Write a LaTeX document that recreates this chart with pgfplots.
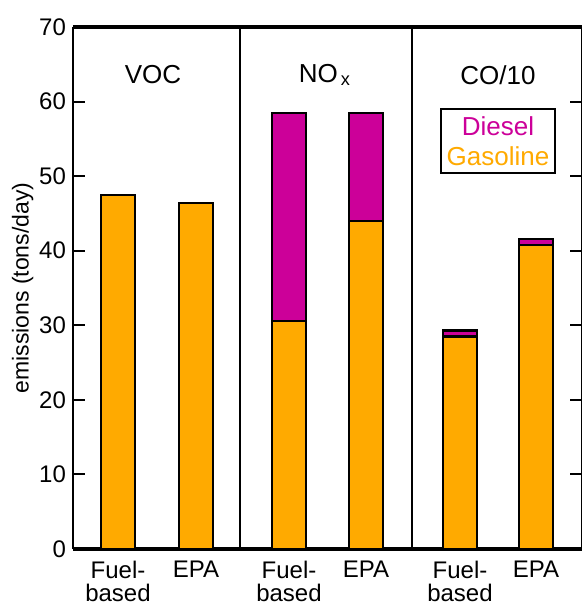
\documentclass[border=0pt]{standalone}
\usepackage{pgfplots}
\pgfplotsset{compat=1.18}
\usepackage{fontspec}
\setmainfont{Liberation Sans}
\definecolor{gas}{RGB}{255,170,0}
\definecolor{dsl}{RGB}{204,0,153}
\begin{document}
\begin{tikzpicture}
\begin{axis}[
 scale only axis, width=254.5pt, height=261pt,
 xmin=0, xmax=509, ymin=0, ymax=70,
 ytick={0,10,...,70},
 xtick={45,123,216,293,387,463},
 xticklabels={{Fuel-\\based},EPA,{Fuel-\\based},EPA,{Fuel-\\based},EPA},
 xticklabel style={align=center, font=\fontsize{12}{11.5}\selectfont, yshift=-2.5pt},
 x tick style={draw=none},
 yticklabel style={font=\fontsize{12}{14}\selectfont},
 /pgf/number format/assume math mode=true,
 tick align=inside, major tick length=6pt,
 y tick style={black, line width=1pt},
 separate axis lines,
 axis line style={line width=1pt},
 every outer x axis line/.append style={line width=1.6pt},
 ylabel={emissions (tons/day)},
 ylabel style={font=\fontsize{11.5}{13}\selectfont},
 ylabel shift=-4pt,
 ybar stacked, bar width=34,
 extra x ticks={167,339}, extra x tick labels={},
 extra x tick style={grid=major, major grid style={black,line width=0.8pt}},
]
\addplot[fill=gas, draw=black, line width=1.1pt] coordinates {(45,47.5) (123,46.4) (216,30.6) (293,44.0) (387,28.5) (463,40.8)};
\addplot[fill=dsl, draw=black, line width=1.1pt] coordinates {(45,0) (123,0) (216,27.9) (293,14.5) (387,0.8) (463,0.8)};
\node[font=\fontsize{13}{15}\selectfont] at (axis cs:80,63.6) {VOC};
\node[font=\fontsize{13}{15}\selectfont] at (axis cs:252,63.6) {NO\textsubscript{\,x}};
\node[font=\fontsize{13}{15}\selectfont] at (axis cs:425,63.6) {CO/10};
\node[draw=black, line width=1pt, fill=white, minimum width=57pt, minimum height=32pt, align=center, font=\fontsize{13}{15}\selectfont, inner sep=1pt] at (axis cs:425,54.7) {\textcolor{dsl}{Diesel}\\\textcolor{gas}{Gasoline}};
\end{axis}
\pgfresetboundingbox
\path[use as bounding box] ([xshift=-36.5pt,yshift=-27.5pt]current axis.south west) rectangle ([yshift=13.5pt, xshift=-0.3pt]current axis.north east);
\end{tikzpicture}
\end{document}
